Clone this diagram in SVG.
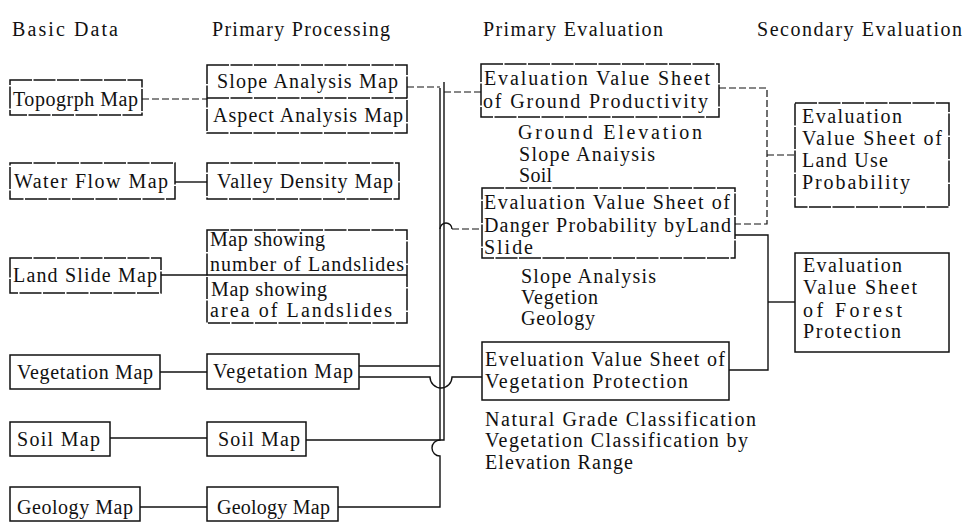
<svg xmlns="http://www.w3.org/2000/svg" width="964" height="522" viewBox="0 0 964 522">
<style>
text{font-family:'Liberation Serif','DejaVu Serif','Times New Roman',serif;font-size:20px;fill:#111;}
.b{fill:none;stroke:#111;stroke-width:1.5;}
.s{fill:none;stroke:#111;stroke-width:1.5;stroke-dasharray:22 1.5;}
.c{fill:none;stroke:#111;stroke-width:1.4;}
.d{fill:none;stroke:#111;stroke-width:1.2;stroke-dasharray:7 3;}
</style>
<rect width="964" height="522" fill="#fff"/>
<g id="headers">
<text x="12" y="36" textLength="106" lengthAdjust="spacing">Basic Data</text>
<text x="212" y="36" textLength="178" lengthAdjust="spacing">Primary Processing</text>
<text x="483" y="36" textLength="180" lengthAdjust="spacing">Primary Evaluation</text>
<text x="757" y="36" textLength="205" lengthAdjust="spacing">Secondary Evaluation</text>
</g>
<g id="connectors">
<path class="d" d="M142,99 H207"/>
<path class="c" d="M175,182 H207"/>
<path class="c" d="M161,275 H207"/>
<path class="c" d="M160,372 H207"/>
<path class="c" d="M110,438 H207"/>
<path class="c" d="M140,507 H207"/>
<path class="d" d="M407,87 H440"/>
<path class="c" d="M440,88 V440 A8,8 0 0 0 440,456 V507 H338"/>
<path class="c" d="M444,82 V440 H306"/>
<path class="d" d="M444,92 H481"/>
<path class="c" d="M359,366 H440"/>
<path class="c" d="M359,377 H430 A11,11 0 0 0 452,377 H482"/>
<path class="c" d="M440,229 A6,6 0 0 1 452,229"/>
<path class="d" d="M452,229 H482"/>
<path class="d" d="M719,88 H767 V224 H735"/>
<path class="d" d="M767,155 H795"/>
<path class="c" d="M735,235 H768 V370 H729"/>
<path class="c" d="M768,302 H795"/>
</g>
<g id="topogrph"><rect class="s" x="10" y="80" width="132" height="35"/><text x="13" y="106" textLength="125" lengthAdjust="spacing">Topogrph Map</text></g>
<g id="slope-aspect"><rect class="s" x="207" y="65" width="200" height="68"/><path class="s" d="M207,98 H407"/>
<text x="217" y="88" textLength="181" lengthAdjust="spacing">Slope Analysis Map</text>
<text x="213" y="122" textLength="190" lengthAdjust="spacing">Aspect Analysis Map</text></g>
<g id="waterflow"><rect class="s" x="10" y="163" width="165" height="36"/><text x="14" y="188" textLength="154" lengthAdjust="spacing">Water Flow Map</text></g>
<g id="valley"><rect class="s" x="207" y="163" width="192" height="36"/><text x="217" y="188" textLength="176" lengthAdjust="spacing">Valley Density Map</text></g>
<g id="landslide"><rect class="s" x="10" y="258" width="151" height="35"/><text x="13" y="282" textLength="144" lengthAdjust="spacing">Land Slide Map</text></g>
<g id="landslides-maps"><rect class="s" x="207" y="230" width="200" height="93"/><path class="b" d="M207,275 H407"/>
<text x="210" y="246" textLength="115" lengthAdjust="spacing">Map showing</text>
<text x="210" y="271" textLength="194" lengthAdjust="spacing">number of Landslides</text>
<text x="211" y="296" textLength="116" lengthAdjust="spacing">Map showing</text>
<text x="210" y="317" textLength="182" lengthAdjust="spacing">area of Landslides</text></g>
<g id="veg-basic"><rect class="b" x="10" y="355" width="150" height="34"/><text x="17" y="379" textLength="136" lengthAdjust="spacing">Vegetation Map</text></g>
<g id="veg-primary"><rect class="b" x="207" y="354" width="152" height="35"/><text x="213" y="378" textLength="140" lengthAdjust="spacing">Vegetation Map</text></g>
<g id="soil-basic"><rect class="b" x="10" y="422" width="100" height="34"/><text x="17" y="446" textLength="83" lengthAdjust="spacing">Soil Map</text></g>
<g id="soil-primary"><rect class="b" x="207" y="422" width="99" height="34"/><text x="218" y="446" textLength="82" lengthAdjust="spacing">Soil Map</text></g>
<g id="geology-basic"><rect class="b" x="10" y="487" width="130" height="34"/><text x="17" y="514" textLength="116" lengthAdjust="spacing">Geology Map</text></g>
<g id="geology-primary"><rect class="b" x="207" y="487" width="131" height="34"/><text x="217" y="514" textLength="113" lengthAdjust="spacing">Geology Map</text></g>
<g id="ground"><rect class="s" x="481" y="64" width="238" height="53"/>
<text x="484" y="85" textLength="226" lengthAdjust="spacing">Evaluation Value Sheet</text>
<text x="483" y="108" textLength="225" lengthAdjust="spacing">of Ground Productivity</text></g>
<g id="ground-notes">
<text x="518" y="139" textLength="184" lengthAdjust="spacing">Ground Elevation</text>
<text x="519" y="161" textLength="136" lengthAdjust="spacing">Slope Anaiysis</text>
<text x="519" y="182" textLength="33" lengthAdjust="spacing">Soil</text></g>
<g id="danger"><rect class="s" x="482" y="188" width="253" height="70"/>
<text x="484" y="209" textLength="246" lengthAdjust="spacing">Evaluation Value Sheet of</text>
<text x="484" y="232" textLength="247" lengthAdjust="spacing">Danger Probability byLand</text>
<text x="484" y="254" textLength="49" lengthAdjust="spacing">Slide</text></g>
<g id="danger-notes">
<text x="521" y="283" textLength="135" lengthAdjust="spacing">Slope Analysis</text>
<text x="521" y="304" textLength="77" lengthAdjust="spacing">Vegetion</text>
<text x="521" y="325" textLength="74" lengthAdjust="spacing">Geology</text></g>
<g id="veg-protection"><rect class="b" x="482" y="342" width="247" height="58"/>
<text x="485" y="366" textLength="240" lengthAdjust="spacing">Eveluation Value Sheet of</text>
<text x="485" y="388" textLength="203" lengthAdjust="spacing">Vegetation Protection</text></g>
<g id="veg-notes">
<text x="485" y="426" textLength="271" lengthAdjust="spacing">Natural Grade Classification</text>
<text x="485" y="447" textLength="263" lengthAdjust="spacing">Vegetation Classification by</text>
<text x="485" y="469" textLength="148" lengthAdjust="spacing">Elevation Range</text></g>
<g id="land-use"><rect class="s" x="795" y="103" width="154" height="104"/>
<text x="802" y="123" textLength="100" lengthAdjust="spacing">Evaluation</text>
<text x="802" y="145" textLength="140" lengthAdjust="spacing">Value Sheet of</text>
<text x="802" y="167" textLength="86" lengthAdjust="spacing">Land Use</text>
<text x="802" y="189" textLength="108" lengthAdjust="spacing">Probability</text></g>
<g id="forest"><rect class="b" x="795" y="253" width="154" height="99"/>
<text x="803" y="272" textLength="99" lengthAdjust="spacing">Evaluation</text>
<text x="803" y="294" textLength="114" lengthAdjust="spacing">Value Sheet</text>
<text x="803" y="317" textLength="99" lengthAdjust="spacing">of  Forest</text>
<text x="803" y="338" textLength="98" lengthAdjust="spacing">Protection</text></g>
</svg>
